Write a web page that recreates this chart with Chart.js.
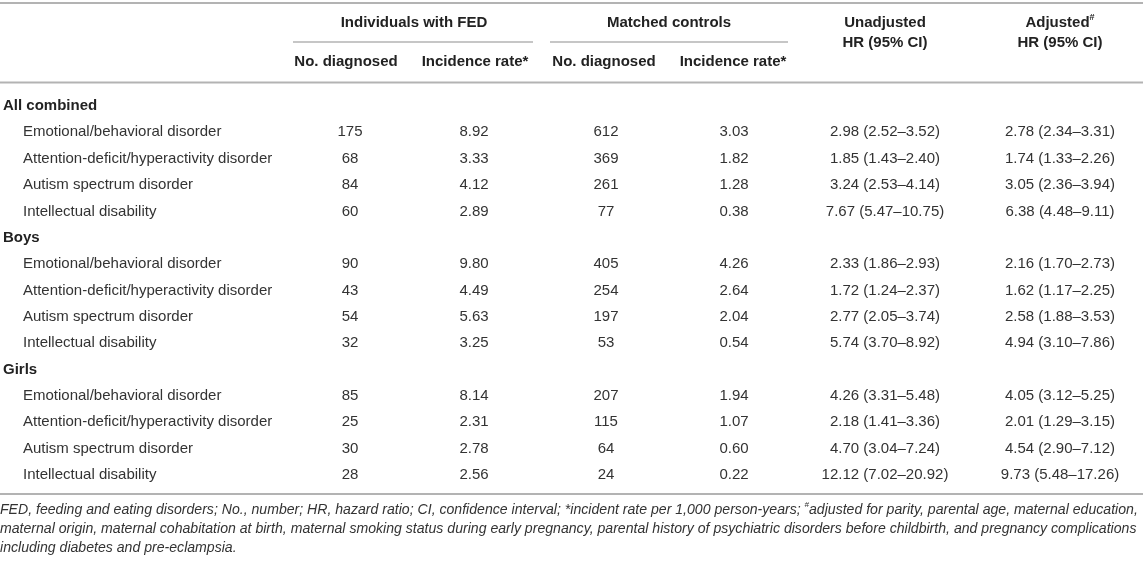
<!DOCTYPE html>
<html>
<head>
<meta charset="utf-8">
<title>FED and neurodevelopmental disorders</title>
<script src="https://cdn.jsdelivr.net/npm/chart.js@4.4.1/dist/chart.umd.min.js"></script>
<style>
  html, body { margin: 0; padding: 0; background: #fff; }
  #wrap { width: 1143px; height: 566px; }
</style>
</head>
<body>
<div id="wrap"><canvas id="tableChart" width="1143" height="566"></canvas></div>
<script>
// table content
const groups = ['All combined', 'Boys', 'Girls'];
const disorders = [
    'Emotional/behavioral disorder',
    'Attention-deficit/hyperactivity disorder',
    'Autism spectrum disorder',
    'Intellectual disability'
];
const fedCases  = [175, 68, 84, 60, 90, 43, 54, 32, 85, 25, 30, 28];
const fedRate   = [8.92, 3.33, 4.12, 2.89, 9.80, 4.49, 5.63, 3.25, 8.14, 2.31, 2.78, 2.56];
const ctrlCases = [612, 369, 261, 77, 405, 254, 197, 53, 207, 115, 64, 24];
const ctrlRate  = [3.03, 1.82, 1.28, 0.38, 4.26, 2.64, 2.04, 0.54, 1.94, 1.07, 0.60, 0.22];
const hrCrude   = [2.98, 1.85, 3.24, 7.67, 2.33, 1.72, 2.77, 5.74, 4.26, 2.18, 4.70, 12.12];
const hrCrudeLo = [2.52, 1.43, 2.53, 5.47, 1.86, 1.24, 2.05, 3.70, 3.31, 1.41, 3.04, 7.02];
const hrCrudeHi = [3.52, 2.40, 4.14, 10.75, 2.93, 2.37, 3.74, 8.92, 5.48, 3.36, 7.24, 20.92];
const hrAdj     = [2.78, 1.74, 3.05, 6.38, 2.16, 1.62, 2.58, 4.94, 4.05, 2.01, 4.54, 9.73];
const hrAdjLo   = [2.34, 1.33, 2.36, 4.48, 1.70, 1.17, 1.88, 3.10, 3.12, 1.29, 2.90, 5.48];
const hrAdjHi   = [3.31, 2.26, 3.94, 9.11, 2.73, 2.25, 3.53, 7.86, 5.25, 3.15, 7.12, 17.26];

const spanHeads = ['Individuals with FED', 'Matched controls'];
const subHeads = ['No. diagnosed', 'Incidence rate*', 'No. diagnosed', 'Incidence rate*'];
const hrHeads = [['Unadjusted', 'HR (95% CI)'], ['Adjusted', 'HR (95% CI)']];
const footnoteLines = [
    'FED, feeding and eating disorders; No., number; HR, hazard ratio; CI, confidence interval; *incident rate per 1,000 person-years; ',
    'maternal origin, maternal cohabitation at birth, maternal smoking status during early pregnancy, parental history of psychiatric disorders before childbirth, and pregnancy complications',
    'including diabetes and pre-eclampsia.'
];
const footnoteTail = 'adjusted for parity, parental age, maternal education,';

// layout
const W = 1143, H = 566;
const FONT = '"Liberation Sans", Arial, Helvetica, sans-serif';
const colX = [350, 474, 606, 734, 885, 1060];
const rowY = i => 106 + i * 26.35;
const dataRow = k => Math.floor(k / 4) * 5 + 1 + (k % 4);
const RULE = '#b3b3b3';

const fmt = v => v.toFixed(2);
const withCI = (hr, lo, hi) => hr.map((v, i) => fmt(v) + ' (' + fmt(lo[i]) + '\u2013' + fmt(hi[i]) + ')');

const bodyStyle = { size: 15, weight: 'normal', color: '#333', align: 'center' };
const headStyle = { size: 15, weight: 'bold', color: '#222', align: 'center' };

function textSet(points, texts, style) {
    return {
        data: points,
        cellText: texts,
        cellStyle: style,
        pointRadius: 0,
        pointHoverRadius: 0,
        showLine: false
    };
}

function rule(x0, x1, y, width) {
    return {
        data: [{ x: x0, y: y }, { x: x1, y: y }],
        showLine: true,
        borderColor: RULE,
        borderWidth: width,
        pointRadius: 0,
        pointHoverRadius: 0,
        clip: false
    };
}

const datasets = [];

// rules
datasets.push(rule(0, W, 3, 2));
datasets.push(rule(293, 533, 42, 1.5));
datasets.push(rule(550, 788, 42, 1.5));
datasets.push(rule(0, W, 82.5, 2));
datasets.push(rule(0, W, 494, 2));

// headers
datasets.push(textSet([{ x: 414, y: 23 }, { x: 669, y: 23 }], spanHeads, headStyle));
datasets.push(textSet(subHeads.map((t, i) => ({ x: [346, 475, 604, 733][i], y: 62 })), subHeads, headStyle));
datasets.push(textSet(
    [{ x: 885, y: 23 }, { x: 885, y: 43 }, { x: 1060, y: 23 }, { x: 1060, y: 43 }],
    [hrHeads[0][0], hrHeads[0][1], [{ t: hrHeads[1][0] }, { t: '#', sup: true }], hrHeads[1][1]],
    headStyle
));

// row labels
const groupRows = groups.map((g, i) => ({ x: 3, y: rowY(i * 5) }));
datasets.push(textSet(groupRows, groups, Object.assign({}, headStyle, { align: 'left' })));
const itemTexts = [], itemPts = [];
groups.forEach((g, gi) => disorders.forEach((d, di) => {
    itemTexts.push(d);
    itemPts.push({ x: 23, y: rowY(gi * 5 + 1 + di) });
}));
datasets.push(textSet(itemPts, itemTexts, Object.assign({}, bodyStyle, { align: 'left' })));

// value columns
const columns = [
    fedCases.map(String),
    fedRate.map(fmt),
    ctrlCases.map(String),
    ctrlRate.map(fmt),
    withCI(hrCrude, hrCrudeLo, hrCrudeHi),
    withCI(hrAdj, hrAdjLo, hrAdjHi)
];
columns.forEach((col, c) => {
    datasets.push(textSet(col.map((t, k) => ({ x: colX[c], y: rowY(dataRow(k)) })), col, bodyStyle));
});

// footnote
const noteStyle = { size: 14.1, weight: 'normal', style: 'italic', color: '#333', align: 'left' };
datasets.push(textSet(
    [{ x: 0, y: 510 }, { x: 0, y: 529 }, { x: 0, y: 548 }],
    [[{ t: footnoteLines[0] }, { t: '#', sup: true }, { t: footnoteTail }], footnoteLines[1], footnoteLines[2]],
    noteStyle
));

const tableText = {
    id: 'tableText',
    afterDatasetsDraw(chart) {
        const ctx = chart.ctx;
        chart.data.datasets.forEach((ds, di) => {
            if (!ds.cellText) return;
            const st = ds.cellStyle;
            const meta = chart.getDatasetMeta(di);
            const mainFont = (st.style || 'normal') + ' ' + st.weight + ' ' + st.size + 'px ' + FONT;
            const supFont = (st.style || 'normal') + ' ' + st.weight + ' ' + Math.round(st.size * 0.6) + 'px ' + FONT;
            meta.data.forEach((pt, i) => {
                let segs = ds.cellText[i];
                if (typeof segs === 'string') segs = [{ t: segs }];
                ctx.save();
                ctx.fillStyle = st.color;
                ctx.textBaseline = 'middle';
                ctx.textAlign = 'left';
                let total = 0;
                const widths = segs.map(s => {
                    ctx.font = s.sup ? supFont : mainFont;
                    const w = ctx.measureText(s.t).width;
                    total += w;
                    return w;
                });
                let x = pt.x;
                if (st.align === 'center') x -= total / 2;
                else if (st.align === 'right') x -= total;
                segs.forEach((s, j) => {
                    ctx.font = s.sup ? supFont : mainFont;
                    ctx.fillText(s.t, x, s.sup ? pt.y - st.size * 0.35 : pt.y);
                    x += widths[j];
                });
                ctx.restore();
            });
        });
    }
};

new Chart(document.getElementById('tableChart'), {
    type: 'scatter',
    data: { datasets: datasets },
    options: {
        responsive: false,
        animation: false,
        events: [],
        layout: { padding: 0 },
        plugins: { legend: { display: false }, tooltip: { enabled: false } },
        scales: {
            x: { type: 'linear', min: 0, max: W, display: false },
            y: { type: 'linear', min: 0, max: H, reverse: true, display: false }
        }
    },
    plugins: [tableText]
});
</script>
</body>
</html>
